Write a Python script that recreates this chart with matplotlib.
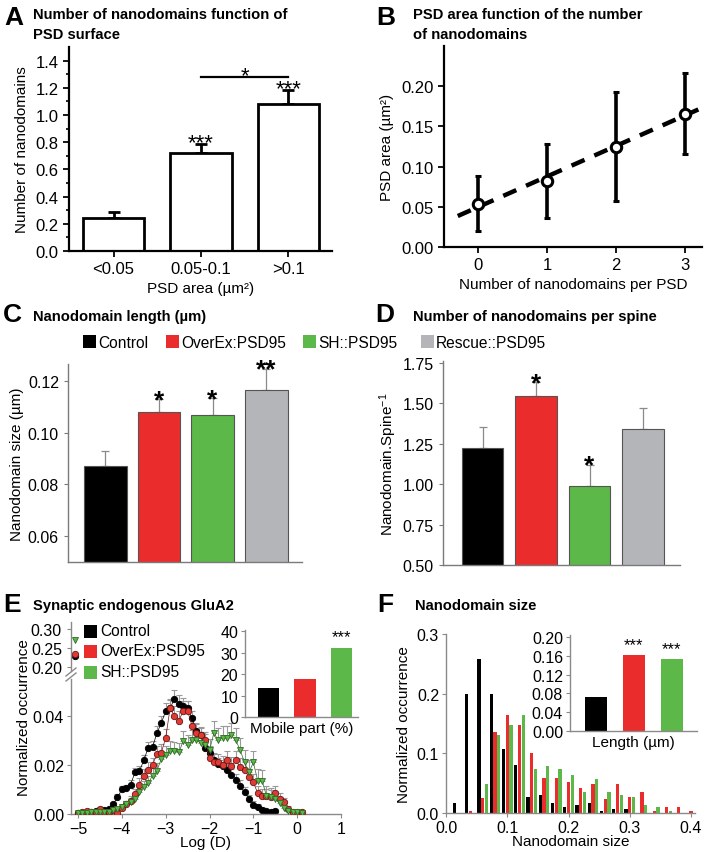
import matplotlib
matplotlib.use('Agg')
import matplotlib.pyplot as plt
import numpy as np
from matplotlib.patches import Rectangle

plt.rcParams['font.family'] = ['Liberation Sans', 'DejaVu Sans']
plt.rcParams['mathtext.fontset'] = 'custom'
plt.rcParams['mathtext.rm'] = 'Liberation Sans'
plt.rcParams['mathtext.it'] = 'Liberation Sans:italic'

# ---------------- data ----------------
A_cats = ['<0.05', '0.05-0.1', '>0.1']
A_vals = [0.24, 0.72, 1.08]
A_err = [0.05, 0.065, 0.105]
A_stars = ['', '***', '***']

B_x = [0, 1, 2, 3]
B_vals = [0.054, 0.082, 0.125, 0.166]
B_err = [0.034, 0.046, 0.068, 0.050]

groups = ['Control', 'OverEx:PSD95', 'SH::PSD95', 'Rescue::PSD95']
group_colors = ['#000000', '#ea2d2c', '#5cb848', '#b3b5b8']

C_vals = [0.087, 0.108, 0.1068, 0.1165]
C_err = [0.0058, 0.005, 0.0066, 0.0082]
C_stars = ['', '*', '*', '**']

D_vals = [1.22, 1.543, 0.99, 1.343]
D_err = [0.13, 0.087, 0.13, 0.127]
D_stars = ['', '*', '*', '']

E_x_black = np.round(np.arange(-5.0, -0.45, 0.1), 1)
E_black = [0.0005, 0.0005, 0.0008, 0.0010, 0.0012, 0.0015, 0.0015, 0.0020, 0.0040, 0.0068,
           0.0100, 0.0105, 0.0120, 0.0170, 0.0175, 0.0218, 0.0270, 0.0272, 0.0330, 0.0370,
           0.0420, 0.0430, 0.0470, 0.0450, 0.0440, 0.0430, 0.0390, 0.0340, 0.0320, 0.0270,
           0.0250, 0.0220, 0.0204, 0.0196, 0.0180, 0.0160, 0.0140, 0.0115, 0.0088, 0.0061,
           0.0037, 0.0027, 0.0017, 0.0011, 0.0010, 0.0014]
E_black_err = [0.0005, 0.0005, 0.0005, 0.0005, 0.0005, 0.0006, 0.0006, 0.0008, 0.0010, 0.0012,
               0.0014, 0.0015, 0.0017, 0.0018, 0.0020, 0.0022, 0.0025, 0.0025, 0.0028, 0.0030,
               0.0032, 0.0034, 0.0035, 0.0034, 0.0033, 0.0032, 0.0031, 0.0030, 0.0030, 0.0029,
               0.0028, 0.0027, 0.0026, 0.0026, 0.0025, 0.0024, 0.0023, 0.0022, 0.0020, 0.0018,
               0.0015, 0.0012, 0.0010, 0.0008, 0.0006, 0.0006]
E_x_full = np.round(np.arange(-5.0, 0.15, 0.1), 1)
E_red = [0.0005, 0.0010, 0.0012, 0.0010, 0.0010, 0.0020, 0.0010, 0.0010, 0.0015, 0.0005,
         0.0025, 0.0040, 0.0055, 0.0080, 0.0120, 0.0156, 0.0180, 0.0200, 0.0245, 0.0250,
         0.0310, 0.0430, 0.0400, 0.0380, 0.0420, 0.0420, 0.0360, 0.0330, 0.0320, 0.0300,
         0.0230, 0.0210, 0.0210, 0.0200, 0.0220, 0.0196, 0.0218, 0.0190, 0.0180, 0.0150,
         0.0129, 0.0085, 0.0074, 0.0074, 0.0070, 0.0085, 0.0060, 0.0047, 0.0020, 0.0009,
         0.0009, 0.0007]
E_red_err = [0.0005, 0.0006, 0.0006, 0.0006, 0.0006, 0.0008, 0.0006, 0.0006, 0.0008, 0.0006,
             0.0012, 0.0015, 0.0018, 0.0020, 0.0025, 0.0028, 0.0030, 0.0030, 0.0033, 0.0035,
             0.0038, 0.0040, 0.0040, 0.0040, 0.0040, 0.0040, 0.0038, 0.0036, 0.0035, 0.0035,
             0.0034, 0.0034, 0.0034, 0.0035, 0.0036, 0.0036, 0.0037, 0.0037, 0.0036, 0.0035,
             0.0034, 0.0030, 0.0028, 0.0028, 0.0026, 0.0028, 0.0024, 0.0020, 0.0012, 0.0008,
             0.0006, 0.0005]
E_green = [0.0005, 0.0003, 0.0005, 0.0008, 0.0010, 0.0008, 0.0010, 0.0010, 0.0015, 0.0020,
           0.0030, 0.0040, 0.0050, 0.0060, 0.0090, 0.0110, 0.0125, 0.0156, 0.0177, 0.0224,
           0.0240, 0.0258, 0.0255, 0.0251, 0.0297, 0.0280, 0.0300, 0.0300, 0.0290, 0.0280,
           0.0260, 0.0330, 0.0300, 0.0310, 0.0310, 0.0320, 0.0300, 0.0260, 0.0210, 0.0170,
           0.0210, 0.0136, 0.0136, 0.0074, 0.0068, 0.0060, 0.0045, 0.0025, 0.0012, 0.0007,
           0.0007, 0.0005]
E_green_err = [0.0005, 0.0005, 0.0005, 0.0006, 0.0006, 0.0006, 0.0006, 0.0006, 0.0008, 0.0010,
               0.0012, 0.0014, 0.0016, 0.0018, 0.0022, 0.0025, 0.0028, 0.0030, 0.0032, 0.0034,
               0.0036, 0.0038, 0.0040, 0.0040, 0.0042, 0.0042, 0.0044, 0.0045, 0.0045, 0.0046,
               0.0046, 0.0048, 0.0050, 0.0050, 0.0050, 0.0050, 0.0050, 0.0050, 0.0050, 0.0048,
               0.0048, 0.0046, 0.0044, 0.0040, 0.0036, 0.0032, 0.0026, 0.0020, 0.0014, 0.0010,
               0.0008, 0.0006]
E_immobile_x = -5.06
E_immobile = [0.229, 0.234, 0.270]   # black, red, green
E_mobile = [13.4, 17.5, 32.1]
E_mobile_stars = ['', '', '***']

F_bins = np.round(np.arange(0.02, 0.41, 0.02), 2)
F_black = [0.017, 0.200, 0.258, 0.200, 0.107, 0.080, 0.027, 0.030, 0.017, 0.010,
           0.014, 0.016, 0.003, 0.007, 0.007, 0.0, 0.0, 0.0, 0.0, 0.0]
F_red = [0.0, 0.003, 0.025, 0.135, 0.165, 0.148, 0.100, 0.058, 0.058, 0.052,
         0.042, 0.048, 0.024, 0.048, 0.026, 0.036, 0.003, 0.010, 0.010, 0.003]
F_green = [0.0, 0.0, 0.048, 0.130, 0.148, 0.165, 0.074, 0.078, 0.074, 0.064,
           0.035, 0.057, 0.035, 0.031, 0.026, 0.013, 0.010, 0.004, 0.0, 0.0]
F_length = [0.072, 0.162, 0.153]
F_length_stars = ['', '***', '***']

# ---------------- figure ----------------
W, H = 705, 853
fig = plt.figure(figsize=(7.05, 8.53), dpi=100)


def add_ax(L, T, R, B):
    return fig.add_axes([L / W, 1 - B / H, (R - L) / W, (B - T) / H])


def ftext(x, y, s, **kw):
    return fig.text(x / W, 1 - y / H, s, **kw)


def style(ax, color='black', lw=1.5, tick_fs=11):
    for s in ['top', 'right']:
        ax.spines[s].set_visible(False)
    for s in ['left', 'bottom']:
        ax.spines[s].set_color(color)
        ax.spines[s].set_linewidth(lw)
    ax.tick_params(colors=color, labelcolor='black', labelsize=tick_fs, width=lw * 0.8)
    ax.set_facecolor('none')


LETTER_FS = 19
TITLE_FS = 10.6
LABEL_FS = 11
LEG_FS = 11.2

# ---------------- A ----------------
axA = add_ax(69, 48, 332, 252)
xa = np.arange(len(A_cats))
axA.bar(xa, A_vals, width=0.7, color='white', edgecolor='black', linewidth=2, zorder=2)
axA.errorbar(xa, A_vals, yerr=[np.zeros(3), A_err], fmt='none', ecolor='black',
             elinewidth=2, capsize=4, capthick=2, zorder=1)
axA.set_xlim(-0.51, 2.5)
axA.set_ylim(0, 1.5)
axA.set_yticks(np.round(np.arange(0, 1.41, 0.2), 1))
axA.set_yticks(np.round(np.arange(0.1, 1.41, 0.2), 1), minor=True)
axA.set_xticks(xa)
axA.set_xticklabels(A_cats)
style(axA, 'black', 1.6, 12)
axA.tick_params(which='major', length=4)
axA.tick_params(which='minor', length=2.5, width=1.2, colors='black')
axA.set_ylabel('Number of nanodomains', fontsize=LABEL_FS, labelpad=5)
axA.set_xlabel('PSD area (µm²)', fontsize=LABEL_FS, labelpad=3)
for i, s in enumerate(A_stars):
    if s:
        axA.text(xa[i], A_vals[i] + A_err[i] - 0.03, s, ha='center', va='baseline', fontsize=16)
axA.plot([xa[1], xa[2]], [1.28, 1.28], color='black', lw=1.6)
axA.text((xa[1] + xa[2]) / 2, 1.25, '*', ha='center', va='baseline', fontsize=16)
ftext(4, 25, 'A', fontsize=LETTER_FS, fontweight='bold')
ftext(33, 19, 'Number of nanodomains function of', fontsize=TITLE_FS,
      fontweight='bold', va='baseline')
ftext(33, 39, 'PSD surface', fontsize=TITLE_FS, fontweight='bold', va='baseline')

# ---------------- B ----------------
axB = add_ax(444, 47, 702, 248)
fit = np.polyfit(B_x, B_vals, 1)
xx = np.array([-0.3, 3.3])
axB.plot(xx, np.polyval(fit, xx), color='black', lw=3.2, linestyle=(0, (3.2, 2.4)), zorder=1)
axB.errorbar(B_x, B_vals, yerr=B_err, fmt='o', mfc='white', mec='black', mew=2.2, ms=7.5,
             ecolor='black', elinewidth=2.6, capsize=2.5, capthick=2.6, zorder=3)
axB.set_xlim(-0.5, 3.25)
axB.set_ylim(0, 0.25)
axB.set_yticks([0.0, 0.05, 0.10, 0.15, 0.20])
axB.set_yticklabels(['0.00', '0.05', '0.10', '0.15', '0.20'])
axB.set_xticks(B_x)
style(axB, 'black', 1.6, 12)
axB.tick_params(length=4)
axB.set_ylabel('PSD area (µm²)', fontsize=LABEL_FS, labelpad=5)
axB.set_xlabel('Number of nanodomains per PSD', fontsize=LABEL_FS, labelpad=3)
ftext(376, 25, 'B', fontsize=LETTER_FS, fontweight='bold')
ftext(413, 19, 'PSD area function of the number', fontsize=TITLE_FS,
      fontweight='bold', va='baseline')
ftext(413, 39, 'of nanodomains', fontsize=TITLE_FS, fontweight='bold', va='baseline')

# ---------------- legend C/D ----------------
leg_sq = [83, 166, 303, 421]
for i, g in enumerate(groups):
    fig.patches.append(Rectangle((leg_sq[i] / W, 1 - 349 / H), 13 / W, 13 / H,
                                 transform=fig.transFigure, facecolor=group_colors[i],
                                 edgecolor='none'))
    ftext(leg_sq[i] + 15, 343, g, fontsize=LEG_FS, va='center')

# ---------------- C ----------------
axC = add_ax(68, 365, 302, 563)
xc = np.arange(len(groups))
axC.bar(xc, C_vals, width=0.8, color=group_colors, edgecolor='#555555', linewidth=0.8, zorder=2)
axC.errorbar(xc, C_vals, yerr=[np.zeros(4), C_err], fmt='none', ecolor='#8a8a8a',
             elinewidth=0.9, capsize=3, capthick=0.9, zorder=1)
axC.set_xlim(-0.7, 3.67)
axC.set_ylim(0.05, 0.1266)
axC.set_yticks([0.06, 0.08, 0.10, 0.12])
axC.set_yticklabels(['0.06', '0.08', '0.10', '0.12'])
axC.set_xticks([])
style(axC, '#7a7a7a', 1.0, 11.5)
axC.tick_params(length=3)
axC.set_ylabel('Nanodomain size (µm)', fontsize=LABEL_FS, labelpad=3)
for i, s in enumerate(C_stars):
    if s:
        axC.text(xc[i], C_vals[i] + C_err[i] - 0.003, s, ha='center', va='baseline',
                 fontsize=19, fontweight='bold')
ftext(3, 322, 'C', fontsize=LETTER_FS, fontweight='bold')
ftext(33, 321, 'Nanodomain length (µm)', fontsize=TITLE_FS, fontweight='bold', va='baseline')

# ---------------- D ----------------
axD = add_ax(443, 362, 680, 566)
axD.bar(xc, D_vals, width=0.77, color=group_colors, edgecolor='#555555', linewidth=0.8, zorder=2)
axD.errorbar(xc, D_vals, yerr=[np.zeros(4), D_err], fmt='none', ecolor='#8a8a8a',
             elinewidth=0.9, capsize=3, capthick=0.9, zorder=1)
axD.set_xlim(-0.74, 3.69)
axD.set_ylim(0.5, 1.76)
axD.set_yticks([0.5, 0.75, 1.0, 1.25, 1.5, 1.75])
axD.set_yticklabels(['0.50', '0.75', '1.00', '1.25', '1.50', '1.75'])
axD.set_xticks([])
style(axD, '#7a7a7a', 1.0, 11.5)
axD.tick_params(length=3)
axD.set_ylabel('Nanodomain.Spine$^{-1}$', fontsize=LABEL_FS, labelpad=3)
for i, s in enumerate(D_stars):
    if s:
        axD.text(xc[i], D_vals[i] + D_err[i] - 0.05, s, ha='center', va='baseline',
                 fontsize=19, fontweight='bold')
ftext(375, 322, 'D', fontsize=LETTER_FS, fontweight='bold')
ftext(413, 321, 'Number of nanodomains per spine', fontsize=TITLE_FS, fontweight='bold',
      va='baseline')

# ---------------- E ----------------
series_E = [
    (E_x_black, E_black, E_black_err, 'o', '#000000', '#000000'),
    (E_x_full, E_red, E_red_err, 'o', '#e03a35', '#6b1512'),
    (E_x_full, E_green, E_green_err, 'v', '#5cb848', '#2f6a26'),
]
axE = add_ax(71, 680, 341, 815)
axEu = add_ax(71, 623, 341, 672)
for k, (xs, ys, es, mk, fc, ec) in enumerate(series_E):
    axE.errorbar(xs, ys, yerr=[np.zeros(len(es)), es], fmt='none', ecolor='#9a9a9a',
                 elinewidth=0.8, capsize=2.2, capthick=0.8, zorder=1)
for k, (xs, ys, es, mk, fc, ec) in enumerate(series_E):
    axE.plot(xs, ys, linestyle='-', color=ec, lw=0.5, zorder=2 + k)
    axE.plot(xs, ys, linestyle='none', marker=mk, ms=4.6, mfc=fc, mec=ec, mew=0.6, zorder=2 + k)
    axEu.plot([E_immobile_x], [E_immobile[k]], linestyle='none', marker=mk, ms=4.6,
              mfc=fc, mec=ec, mew=0.6, clip_on=False)
axE.set_xlim(-5.16, 1.0)
axE.set_ylim(0, 0.055)
axE.set_yticks([0.0, 0.02, 0.04])
axE.set_yticklabels(['0.00', '0.02', '0.04'])
axE.set_xticks([-5, -4, -3, -2, -1, 0, 1])
style(axE, '#8a8a8a', 1.0, 11.5)
axE.tick_params(length=3, pad=2)
axE.set_xlabel('Log (D)', fontsize=LABEL_FS, labelpad=-1)
axEu.set_xlim(-5.16, 1.0)
axEu.set_ylim(0.19, 0.3175)
axEu.set_yticks([0.20, 0.25, 0.30])
axEu.set_yticklabels(['0.20', '0.25', '0.30'])
style(axEu, '#8a8a8a', 1.0, 11.5)
axEu.spines['bottom'].set_visible(False)
axEu.set_xticks([])
axEu.tick_params(length=3)
# break marks
for dy in (0, 5):
    fig.add_artist(plt.Line2D([66 / W, 76 / W], [1 - (677 + dy) / H, 1 - (669 + dy) / H],
                              color='#8a8a8a', lw=1.0))
ftext(24, 718, 'Normalized occurrence', fontsize=LABEL_FS, rotation=90, ha='center', va='center')
# legend E
for i in range(3):
    yy = [632, 652, 673][i]
    fig.patches.append(Rectangle((84 / W, 1 - (yy + 6.5) / H), 13 / W, 13 / H,
                                 transform=fig.transFigure, facecolor=group_colors[i],
                                 edgecolor='none'))
    ftext(100, yy, groups[i], fontsize=LEG_FS, va='center')
# inset E
axEi = add_ax(245, 631, 358, 718)
xi = np.arange(3)
axEi.bar(xi, E_mobile, width=0.59, color=group_colors[:3], edgecolor='none')
axEi.set_xlim(-0.64, 2.45)
axEi.set_ylim(0, 40.5)
axEi.set_yticks([0, 10, 20, 30, 40])
axEi.set_xticks([])
style(axEi, '#8a8a8a', 1.0, 11.5)
axEi.tick_params(length=3, pad=2)
axEi.set_xlabel('Mobile part (%)', fontsize=LABEL_FS, labelpad=3)
for i, s in enumerate(E_mobile_stars):
    if s:
        axEi.text(xi[i], E_mobile[i] + 2.0, s, ha='center', va='bottom', fontsize=12)
ftext(3, 612, 'E', fontsize=LETTER_FS, fontweight='bold')
ftext(33, 610, 'Synaptic endogenous GluA2', fontsize=TITLE_FS, fontweight='bold', va='baseline')

# ---------------- F ----------------
axF = add_ax(446, 635, 695, 814)
bw = 0.0052
axF.bar(F_bins - 0.0062, F_black, width=bw, color='#000000', edgecolor='none')
axF.bar(F_bins, F_red, width=bw, color='#ea2d2c', edgecolor='none')
axF.bar(F_bins + 0.0062, F_green, width=bw, color='#5cb848', edgecolor='none')
axF.set_xlim(0.0016, 0.4065)
axF.set_ylim(0, 0.3)
axF.set_yticks([0.0, 0.1, 0.2, 0.3])
axF.set_xticks([0.0, 0.1, 0.2, 0.3, 0.4])
axF.set_xticklabels(['0.0', '0.1', '0.2', '0.3', '0.4'])
style(axF, '#8a8a8a', 1.0, 11.5)
axF.tick_params(length=3, pad=2)
axF.set_xlabel('Nanodomain size', fontsize=LABEL_FS, labelpad=-1)
axF.set_ylabel('Normalized occurrence', fontsize=LABEL_FS, labelpad=4)
axFi = add_ax(570, 636, 697, 732)
axFi.bar(xi, F_length, width=0.58, color=group_colors[:3], edgecolor='none')
axFi.set_xlim(-0.68, 2.66)
axFi.set_ylim(0, 0.204)
axFi.set_yticks([0.0, 0.04, 0.08, 0.12, 0.16, 0.20])
axFi.set_yticklabels(['0.00', '0.04', '0.08', '0.12', '0.16', '0.20'])
axFi.set_xticks([])
style(axFi, '#8a8a8a', 1.0, 11.5)
axFi.tick_params(length=3, pad=2)
axFi.set_xlabel('Length (µm)', fontsize=LABEL_FS, labelpad=3)
for i, s in enumerate(F_length_stars):
    if s:
        axFi.text(xi[i], F_length[i] + 0.006, s, ha='center', va='bottom', fontsize=12)
ftext(377, 612, 'F', fontsize=LETTER_FS, fontweight='bold')
ftext(415, 610, 'Nanodomain size', fontsize=TITLE_FS, fontweight='bold', va='baseline')

fig.savefig('out.png', dpi=100)
